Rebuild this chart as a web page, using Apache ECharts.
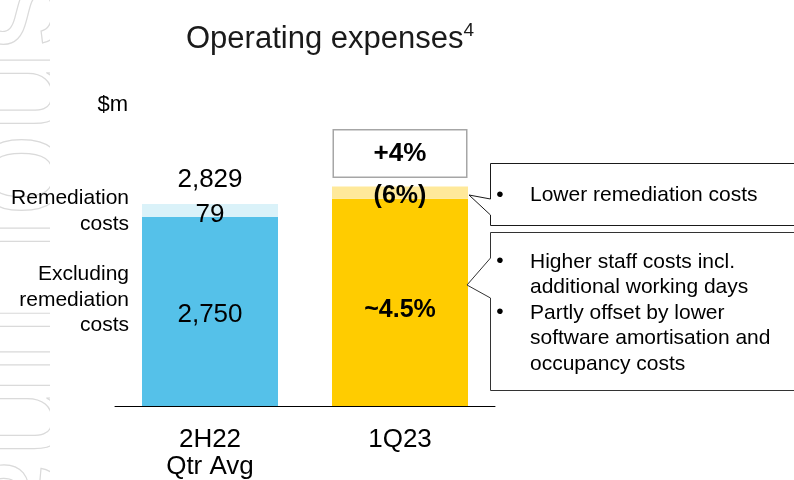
<!DOCTYPE html>
<html>
<head>
<meta charset="utf-8">
<script src="https://cdn.jsdelivr.net/npm/echarts@6/dist/echarts.min.js"></script>
<style>html,body{margin:0;padding:0;background:#fff}#main{width:794px;height:480px}</style>
</head>
<body>
<div id="main"></div>
<script>
var categories = ['2H22\nQtr Avg', '1Q23'];
var exclRemediation = [2750, 2862];
var remediation = [79, 74];
var totals = [2829, 2936];
var exclLabels = ['2,750', '~4.5%'];
var remLabels = ['79', '(6%)'];
var topLabels = ['2,829', '+4%'];
var darkColors = ['#55C1E9', '#FFCC00'];
var lightColors = ['#DAF2F9', '#FFE99A'];
var note1 = 'Lower remediation costs';
var note2 = ['Higher staff costs incl.\nadditional working days', 'Partly offset by lower\nsoftware amortisation and\noccupancy costs'];

var FONT = 'Arial, "Liberation Sans", sans-serif';

function barData(vals, colors, labels, offsets){
	return vals.map(function(v, i){
		return {
			value: v,
			itemStyle: {color: colors[i]},
			label: {
				show: true,
				position: 'inside',
				offset: offsets[i],
				formatter: labels[i],
				fontFamily: FONT,
				fontSize: i == 0 ? 26 : 25,
				fontWeight: i == 0 ? 'normal' : 'bold',
				color: '#000'
			}
		};
	});
}

var topData = totals.map(function(v, i){
	var lbl = {show: true, position: 'top', formatter: topLabels[i], fontFamily: FONT, color: '#000'};
	if(i == 0){
		lbl.fontSize = 26;
		lbl.distance = 11;
	}else{
		//boxed change label
		lbl.fontSize = 26;
		lbl.fontWeight = 'bold';
		lbl.width = 132;
		lbl.height = 46;
		lbl.lineHeight = 46;
		lbl.align = 'center';
		lbl.backgroundColor = '#fff';
		lbl.borderColor = '#a6a6a6';
		lbl.borderWidth = 1.5;
		lbl.distance = 10;
	}
	return {value: [i, v], label: lbl};
});

var chart = echarts.init(document.getElementById('main'));
chart.setOption({
	animation: false,
	title: {
		text: '{t|Operating expenses}{s|4}',
		left: 181,
		top: 16,
		textStyle: {
			fontWeight: 'normal',
			rich: {
				t: {fontSize: 31, fontFamily: FONT, fontWeight: 'normal', color: '#1a1a1a', lineHeight: 36},
				s: {fontSize: 19, fontFamily: FONT, fontWeight: 'normal', color: '#1a1a1a', lineHeight: 22, verticalAlign: 'top'}
			}
		}
	},
	grid: {left: 115, width: 380, top: 176, bottom: 73},
	xAxis: {
		type: 'category',
		data: categories,
		z: 5,
		axisLine: {onZero: false, lineStyle: {color: '#000', width: 1}},
		axisTick: {show: false},
		axisLabel: {fontFamily: FONT, fontSize: 26, lineHeight: 27, color: '#000', margin: 20}
	},
	yAxis: {
		type: 'value',
		min: 1600,
		max: 3000,
		show: false
	},
	series: [
		{
			type: 'bar',
			stack: 'opex',
			barWidth: 136,
			data: barData(exclRemediation, darkColors, exclLabels, [[0, 3], [0, 8]])
		},
		{
			type: 'bar',
			stack: 'opex',
			barWidth: 136,
			data: barData(remediation, lightColors, remLabels, [[0, 4], [0, 4]])
		},
		{
			type: 'scatter',
			symbolSize: 0,
			itemStyle: {opacity: 1},
			data: topData
		}
	],
	graphic: [
		//faint outlined watermark on left edge
		{type: 'text', x: 22, y: 250, rotation: -Math.PI / 2, z: 0,
			style: {text: 'snapshot financial', font: '150px ' + FONT, fill: 'none', stroke: '#dadada', lineWidth: 1.2,
				align: 'center', verticalAlign: 'middle', textAlign: 'center', textVerticalAlign: 'middle'}},
		{type: 'rect', z: 1, shape: {x: 50, y: 0, width: 760, height: 480}, style: {fill: '#fff'}},
		{type: 'text', z: 10, x: 128, y: 105,
			style: {text: '$m', font: '22px ' + FONT, fill: '#000', align: 'right', verticalAlign: 'middle', textAlign: 'right', textVerticalAlign: 'middle'}},
		{type: 'text', z: 10, x: 129, y: 211,
			style: {text: 'Remediation\ncosts', font: '21px ' + FONT, lineHeight: 26, fill: '#000', align: 'right', verticalAlign: 'middle', textAlign: 'right', textVerticalAlign: 'middle'}},
		{type: 'text', z: 10, x: 129, y: 300,
			style: {text: 'Excluding\nremediation\ncosts', font: '21px ' + FONT, lineHeight: 25.5, fill: '#000', align: 'right', verticalAlign: 'middle', textAlign: 'right', textVerticalAlign: 'middle'}},
		//callout boxes
		{type: 'polygon', z: 10,
			shape: {points: [[796, 163.5], [490.5, 163.5], [490.5, 199], [469, 195], [490.5, 215], [490.5, 225.5], [796, 225.5]]},
			style: {fill: '#fff', stroke: '#1a1a1a', lineWidth: 1}},
		{type: 'polygon', z: 10,
			shape: {points: [[796, 232.5], [490.5, 232.5], [490.5, 258], [467, 285], [490.5, 298], [490.5, 390.5], [796, 390.5]]},
			style: {fill: '#fff', stroke: '#333', lineWidth: 1}},
		{type: 'text', z: 11, x: 500, y: 195,
			style: {text: '\u2022', font: '21px ' + FONT, fill: '#000', align: 'center', verticalAlign: 'middle', textAlign: 'center', textVerticalAlign: 'middle'}},
		{type: 'text', z: 11, x: 530, y: 195,
			style: {text: note1, font: '21px ' + FONT, fill: '#000', verticalAlign: 'middle', textVerticalAlign: 'middle'}},
		{type: 'text', z: 11, x: 500, y: 261,
			style: {text: '\u2022', font: '21px ' + FONT, fill: '#000', align: 'center', verticalAlign: 'middle', textAlign: 'center', textVerticalAlign: 'middle'}},
		{type: 'text', z: 11, x: 530, y: 249,
			style: {text: note2[0], font: '21px ' + FONT, lineHeight: 25.5, fill: '#000', verticalAlign: 'top', textVerticalAlign: 'top'}},
		{type: 'text', z: 11, x: 500, y: 312,
			style: {text: '\u2022', font: '21px ' + FONT, fill: '#000', align: 'center', verticalAlign: 'middle', textAlign: 'center', textVerticalAlign: 'middle'}},
		{type: 'text', z: 11, x: 530, y: 300,
			style: {text: note2[1], font: '21px ' + FONT, lineHeight: 25.5, fill: '#000', verticalAlign: 'top', textVerticalAlign: 'top'}}
	]
});
</script>
</body>
</html>
